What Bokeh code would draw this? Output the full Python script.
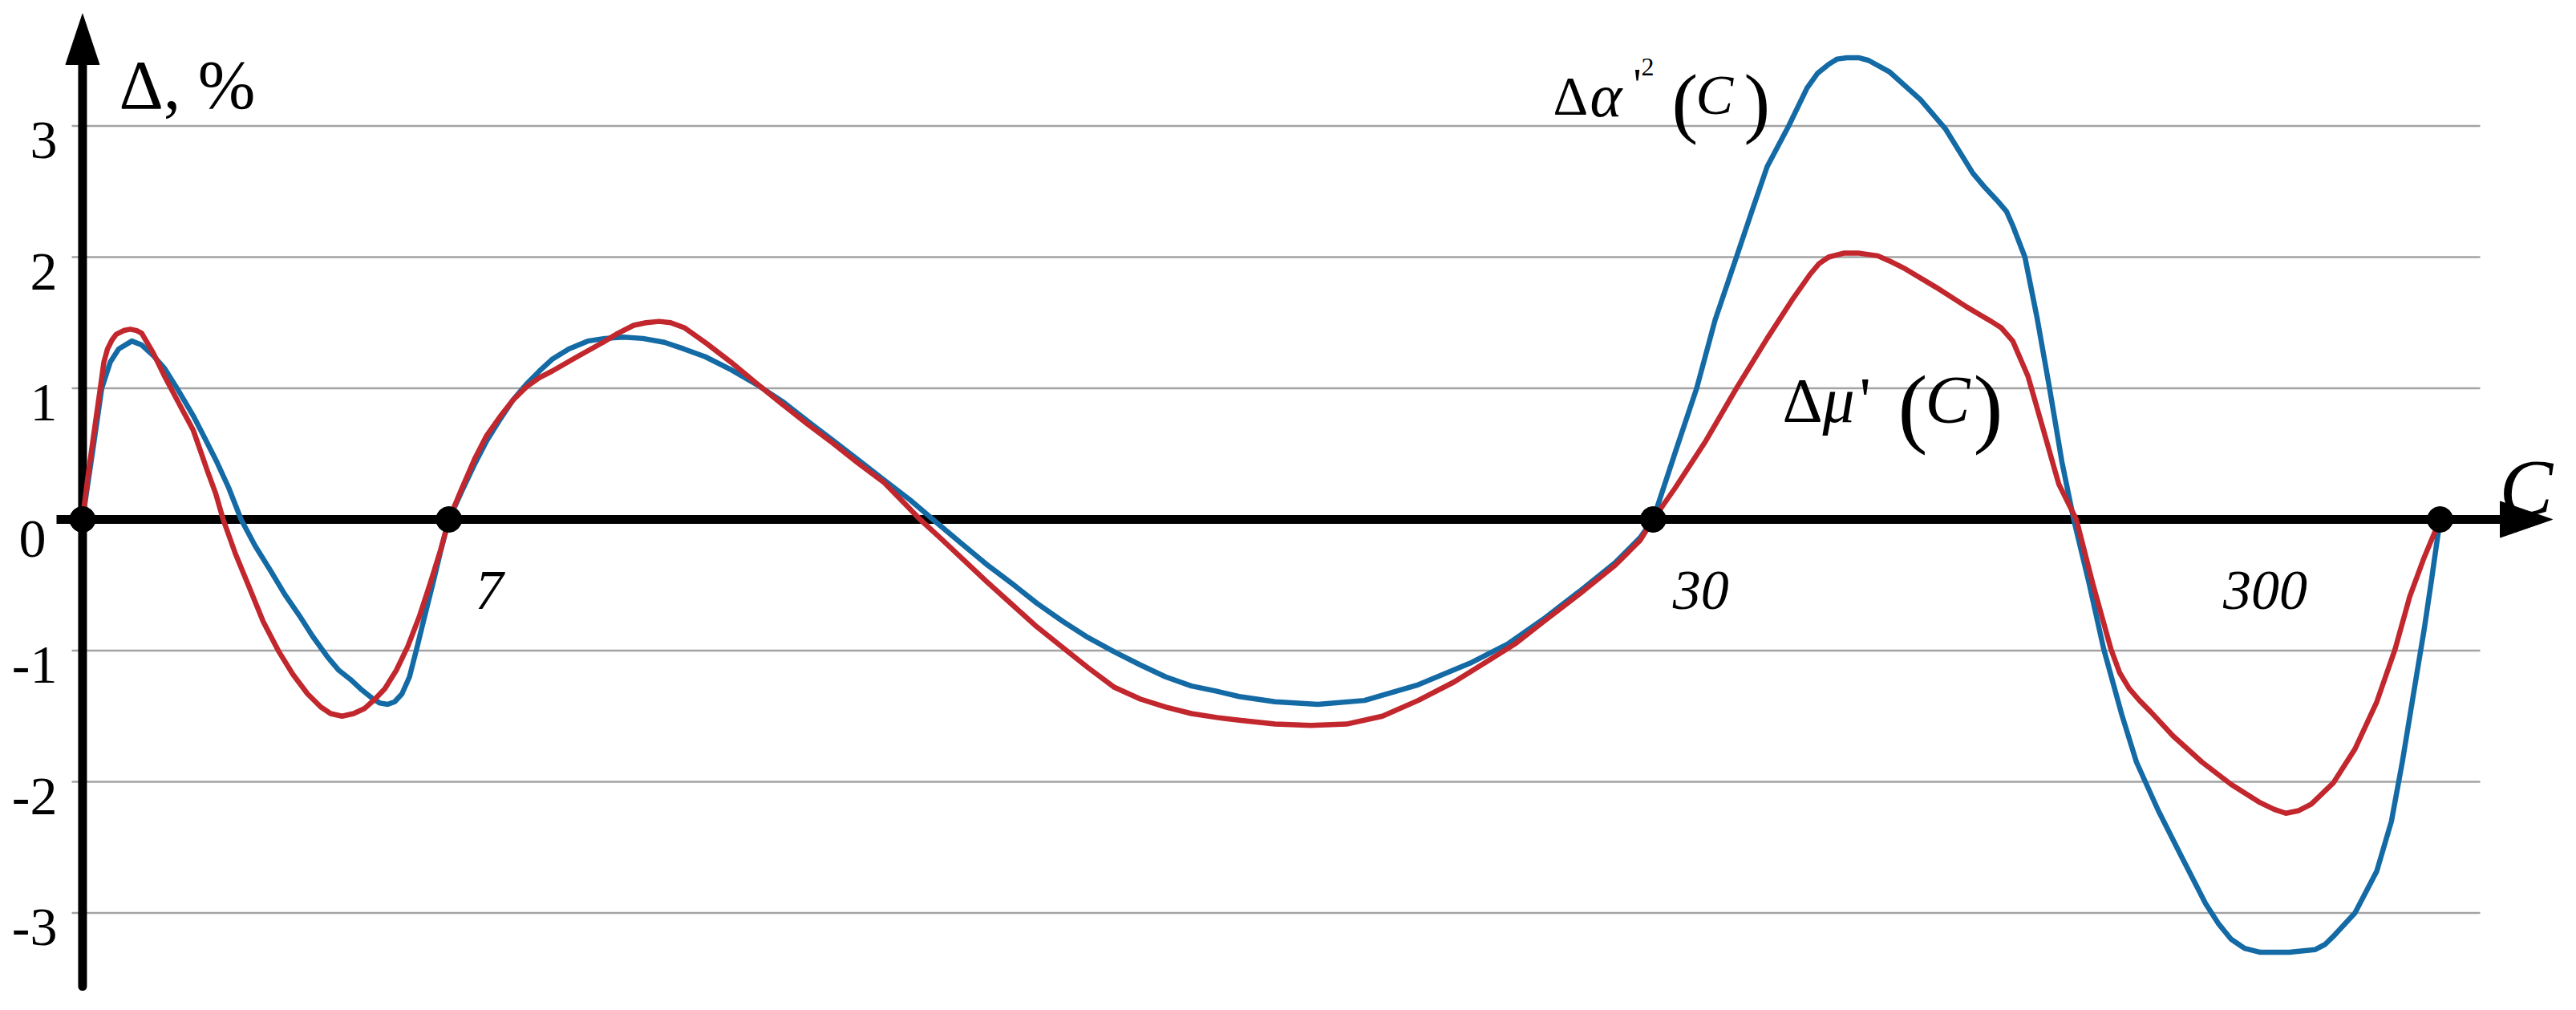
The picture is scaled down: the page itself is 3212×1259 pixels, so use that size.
from bokeh.plotting import figure
from bokeh.models import Range1d
from bokeh.embed import file_html
from bokeh.resources import INLINE
from bokeh.core.properties import value

# ---------------- data (x = position along the schematic C-axis) ----------------
blue_x = [50, 56.5, 61.7, 66.9, 72, 80, 86, 93, 100, 108, 117.4, 124, 131.3, 139, 146.5,
          155, 164.4, 173, 181.8, 190, 199.2, 206, 213.1, 220, 227, 231, 235.7, 240, 244.4,
          249, 253.1, 258, 263.6, 268, 273,
          281, 289, 296, 304.5, 312, 320.1, 328, 335.7, 346, 357.5, 368, 379.3, 391, 404.2,
          416, 429.1, 445, 460.2, 476, 491.3, 507, 522.5, 538, 553.6, 567.6, 584.7, 600,
          615.9, 631, 647, 662, 678.1, 694, 709.3, 725, 740.4, 754, 775.8, 801.9, 830.3,
          863, 895.6, 917.4, 939.2, 961, 982.8, 998, 1006,
          1019.4, 1032.5, 1043.7, 1056.7, 1066.1, 1075.4, 1088.5, 1099.7, 1106, 1112.8, 1118, 1124,
          1131, 1137.1, 1150.1, 1168.8, 1183.8, 1200.6, 1208, 1215.5, 1221, 1224.9, 1232.3, 1239.8,
          1247.3, 1254.8, 1262, 1271.4, 1280.3, 1291.3, 1300.2, 1313.5, 1326.8, 1342.3,
          1350, 1357.8, 1366, 1375.6, 1393.3, 1408.8, 1415, 1419.9, 1433.2, 1446.5, 1455.4, 1462,
          1468.7, 1475.3, 1479.8, 1485]
blue_y = [0, 0.55, 1.0, 1.2, 1.3, 1.36, 1.33, 1.25, 1.15, 0.99, 0.79, 0.63, 0.45, 0.24, 0.0,
          -0.2, -0.39, -0.57, -0.73, -0.89, -1.05, -1.15, -1.22, -1.3, -1.37, -1.4, -1.41, -1.39, -1.33,
          -1.2, -1.0, -0.75, -0.47, -0.24, 0,
          0.22, 0.43, 0.6, 0.77, 0.91, 1.03, 1.13, 1.22, 1.3, 1.36, 1.38, 1.39, 1.38, 1.35,
          1.3, 1.24, 1.14, 1.03, 0.9, 0.75, 0.6, 0.45, 0.3, 0.15, 0.0, -0.18, -0.34,
          -0.49, -0.64, -0.78, -0.9, -1.01, -1.11, -1.2, -1.27, -1.31, -1.35, -1.39, -1.41, -1.38,
          -1.26, -1.09, -0.95, -0.76, -0.55, -0.33, -0.14, 0,
          0.51, 1.0, 1.52, 2.0, 2.35, 2.69, 3.0, 3.29, 3.4, 3.47, 3.51, 3.52,
          3.52, 3.5, 3.41, 3.2, 2.98, 2.64, 2.53, 2.43, 2.35, 2.24, 2.0, 1.53,
          1.0, 0.44, 0.0, -0.49, -0.99, -1.49, -1.85, -2.22, -2.55, -2.93,
          -3.08, -3.2, -3.27, -3.3, -3.3, -3.28, -3.24, -3.18, -3.0, -2.68, -2.3, -1.85,
          -1.34, -0.84, -0.46, 0]

red_x = [50, 53, 56.5, 60.8, 63, 65.2, 68, 70.4, 75, 79.1, 83, 86, 93, 100, 108, 117.4, 126,
         131, 135.6, 143, 152.2, 160, 169.6, 178, 187, 195, 201, 207.9, 215, 221.8, 228, 234,
         241, 247.9, 255, 261.8, 268, 273,
         281, 289, 296, 304.5, 312, 320.1, 328, 335.7, 351, 366.8, 376, 385.5, 393, 401, 408,
         416.6, 430, 444.6, 460, 475.8, 491, 506.9, 522, 538, 549, 559.8, 572, 584.7, 600,
         615.9, 631, 647, 662, 678.1, 694, 709.3, 725, 740.4, 754, 775.8, 797.6, 819.4, 841.2,
         863, 884.7, 906.5, 921.8, 939.2, 961, 982.8, 998, 1006,
         1019.4, 1038.1, 1056.7, 1075.4, 1090.4, 1101.6, 1107, 1112.8, 1122, 1131.5, 1142.7,
         1150, 1159.5, 1178.2, 1196.9, 1205, 1211.8, 1218, 1224.9, 1234.2, 1243.6, 1252.9,
         1263.6, 1273.6, 1284.7, 1290, 1295.8, 1302, 1309.1, 1322.4, 1340.1, 1357.8, 1375.6,
         1384, 1391.1, 1399, 1406.6, 1419.9, 1433.2, 1446.5, 1457.6, 1466.5, 1475.3, 1485]
red_y = [0, 0.3, 0.62, 1.0, 1.2, 1.3, 1.37, 1.41, 1.44, 1.45, 1.44, 1.42, 1.27, 1.09, 0.9, 0.68, 0.37,
         0.2, 0.0, -0.26, -0.54, -0.78, -1.01, -1.18, -1.33, -1.43, -1.48, -1.5, -1.48, -1.44, -1.37, -1.29,
         -1.15, -0.97, -0.74, -0.48, -0.23, 0,
         0.24, 0.47, 0.64, 0.79, 0.91, 1.01, 1.08, 1.13, 1.24, 1.35, 1.42, 1.48, 1.5, 1.51, 1.5,
         1.46, 1.34, 1.2, 1.04, 0.88, 0.73, 0.58, 0.43, 0.28, 0.14, 0.0, -0.14, -0.29, -0.47,
         -0.65, -0.82, -0.98, -1.13, -1.28, -1.37, -1.43, -1.48, -1.51, -1.53, -1.56, -1.57, -1.56, -1.5,
         -1.38, -1.24, -1.07, -0.95, -0.78, -0.57, -0.35, -0.16, 0,
         0.24, 0.6, 1.0, 1.38, 1.67, 1.87, 1.95, 2.0, 2.03, 2.03, 2.01,
         1.97, 1.91, 1.77, 1.62, 1.56, 1.51, 1.46, 1.36, 1.09, 0.68, 0.27,
         0.0, -0.49, -0.99, -1.17, -1.29, -1.38, -1.47, -1.65, -1.85, -2.02, -2.16,
         -2.21, -2.24, -2.22, -2.17, -2.01, -1.75, -1.39, -0.99, -0.59, -0.29, 0]

node_x = [50, 273, 1006, 1485]
node_y = [0, 0, 0, 0]

y_ticks = [3, 2, 1, 0, -1, -2, -3]
y_tick_labels = ["3", "2", "1", "0", "-1", "-2", "-3"]

x_tick_labels = ["7", "30", "300"]
x_tick_label_pos = [289, 1018, 1353]

# ---------------- layout helpers ----------------
W, H = 3196, 1243
PX = 2.0485          # screen px per x unit
PY = 163.5           # screen px per y unit
ZERO_SY = 647        # image y of the zero line


def ux(px):          # image x -> data x
    return px / PX


def uy(py):          # image y -> data y
    return (ZERO_SY - py) / PY


BLUE = "#136aa5"
RED = "#c1272d"
GRID = "#a3a3a3"
FONT = value("Liberation Serif")

p = figure(width=W, height=H,
           x_range=Range1d(ux(0), ux(W)),
           y_range=Range1d(uy(H), uy(0)),
           output_backend="svg", toolbar_location=None,
           x_axis_location=None, y_axis_location=None,
           min_border=0)
p.outline_line_color = None
p.background_fill_color = "white"
for g in p.grid:
    g.visible = False

# horizontal grid lines
n = len(y_ticks)
p.segment(x0=[ux(89)] * n, y0=y_ticks, x1=[ux(3092)] * n, y1=y_ticks,
          line_color=GRID, line_width=2.5)

# axes (thick black with arrow heads)
p.segment(x0=[ux(70)], y0=[0], x1=[ux(3120)], y1=[0], line_color="black", line_width=11)
p.patch([ux(3117), ux(3182), ux(3117)], [22.5 / PY, 0, -22.5 / PY], color="black")
p.segment(x0=[node_x[0]], y0=[uy(1229)], x1=[node_x[0]], y1=[uy(76)],
          line_color="black", line_width=11, line_cap="round")
p.patch([node_x[0] - ux(21), node_x[0], node_x[0] + ux(21)], [uy(80), uy(17), uy(80)],
        color="black")

# curves
p.line(blue_x, blue_y, line_color=BLUE, line_width=6.5, line_join="round", line_cap="round")
p.line(red_x, red_y, line_color=RED, line_width=6.5, line_join="round", line_cap="round")

# nodes
p.scatter(node_x, node_y, size=32, color="black")

# y tick labels
lab_x = [ux(57) if v == 0 else ux(71) for v in y_ticks]
lab_y = [v - (24 if v == 0 else 18) / PY for v in y_ticks]
p.text(x=lab_x, y=lab_y, text=y_tick_labels, text_font=FONT, text_font_size="68px",
       text_align="right", text_baseline="alphabetic", text_color="black")

# x tick labels (italic)
p.text(x=x_tick_label_pos, y=[uy(735)] * len(x_tick_labels), text=x_tick_labels,
       text_font=FONT, text_font_size="70px", text_font_style="italic",
       text_align="left", text_baseline="alphabetic", text_color="black")

# axis titles
p.text(x=[ux(148)], y=[uy(105)], text=["Δ, %"], text_font=FONT, text_font_size="86px",
       text_align="left", text_baseline="alphabetic", text_color="black")
p.text(x=[ux(3116)], y=[uy(607)], text=["C"], text_font=FONT, text_font_size="100px",
       text_font_style="italic", text_align="left", text_baseline="alphabetic",
       text_color="black")

# curve labels built from pieces: (text, left px, baseline px, size px, style)
pieces = [
    ("Δ", 1936, 118, 68, "normal"),
    ("α", 1982, 118, 76, "italic"),
    ("'", 2036, 105, 56, "normal"),
    ("2", 2046, 83, 32, "normal"),
    ("(", 2084, 126, 98, "normal"),
    ("C", 2114, 118, 70, "italic"),
    (")", 2174, 126, 98, "normal"),
    ("Δ", 2222, 498, 78, "normal"),
    ("μ", 2272, 498, 80, "italic"),
    ("'", 2318, 498, 80, "normal"),
    ("(", 2366, 506, 111, "normal"),
    ("C", 2400, 498, 84, "italic"),
    (")", 2460, 506, 111, "normal"),
]
for t, lx, by, sz, st in pieces:
    p.text(x=[ux(lx)], y=[uy(by)], text=[t], text_font=FONT, text_font_size=f"{sz}px",
           text_font_style=st, text_align="left", text_baseline="alphabetic",
           text_color="black")

open("out.html", "w").write(file_html(p, INLINE))
